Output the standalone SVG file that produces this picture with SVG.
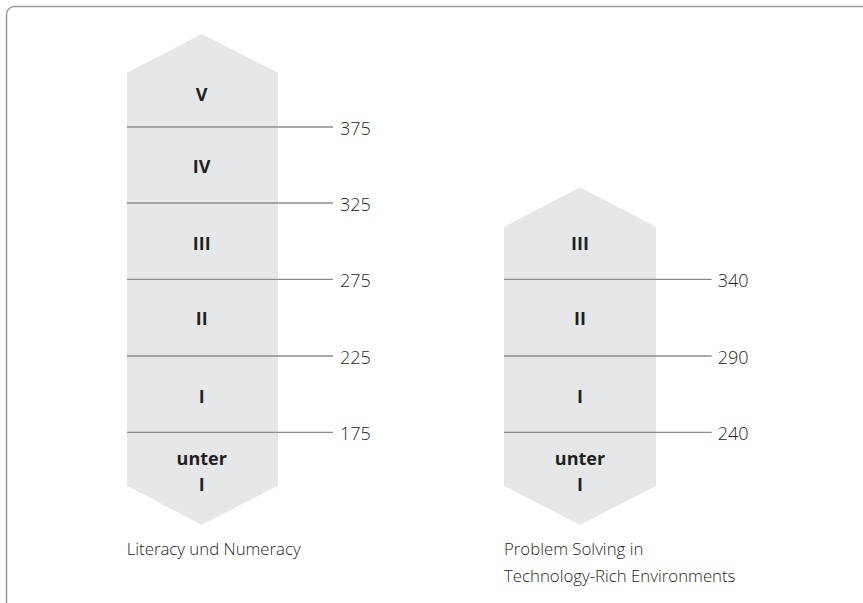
<svg xmlns="http://www.w3.org/2000/svg" width="863" height="603" viewBox="0 0 863 603">
<style>
.band{fill:#e6e7e8;stroke:none}
.tick{stroke:#8c8c8c;stroke-width:1.3;fill:none}
.lvl{font-family:"Open Sans","Liberation Sans",sans-serif;font-weight:700;font-size:18px;fill:#231f20;text-anchor:middle}
.num{font-family:"Open Sans","Liberation Sans",sans-serif;font-weight:300;font-size:18px;fill:#231f20}
.cap{font-family:"Open Sans","Liberation Sans",sans-serif;font-weight:300;font-size:16.8px;fill:#231f20}
</style>
<rect x="6.5" y="6.5" width="866" height="606" rx="8" fill="none" stroke="#9a9a9a" stroke-width="1.5"/>
<g id="literacy-scale">
<polygon class="band" points="127,72.7 201.7,34 278,72.7 278,485.7 201.7,525 127,485.7"/>
<text class="lvl" x="201.7" y="100.7">V</text>
<text class="lvl" x="201.7" y="173">IV</text>
<text class="lvl" x="201.7" y="250">III</text>
<text class="lvl" x="201.7" y="325.3">II</text>
<text class="lvl" x="201.7" y="403.3">I</text>
<text class="lvl" x="201.7" y="464.7">unter</text>
<text class="lvl" x="201.7" y="490.7">I</text>
<text class="cap" x="126.7" y="555">Literacy und Numeracy</text>
</g>
<g id="problem-solving-scale">
<polygon class="band" points="504,226.7 580,187.3 656,226.7 656,485.7 580,525 504,485.7"/>
<text class="lvl" x="580" y="250">III</text>
<text class="lvl" x="580" y="325.3">II</text>
<text class="lvl" x="580" y="403.3">I</text>
<text class="lvl" x="580" y="464.7">unter</text>
<text class="lvl" x="580" y="490.7">I</text>
<text class="cap" x="504" y="555">Problem Solving in</text>
<text class="cap" x="504" y="581.7">Technology-Rich Environments</text>
</g>
<g id="connectors">
<line class="tick" x1="127" y1="127" x2="333" y2="127"/>
<line class="tick" x1="127" y1="203" x2="333" y2="203"/>
<line class="tick" x1="127" y1="279.3" x2="333" y2="279.3"/>
<line class="tick" x1="127" y1="356" x2="333" y2="356"/>
<line class="tick" x1="127" y1="432.3" x2="333" y2="432.3"/>
<line class="tick" x1="504" y1="279.3" x2="711.7" y2="279.3"/>
<line class="tick" x1="504" y1="356" x2="711.7" y2="356"/>
<line class="tick" x1="504" y1="432.3" x2="711.7" y2="432.3"/>
</g>
<g id="threshold-labels">
<text class="num" x="340" y="135">375</text>
<text class="num" x="340" y="211">325</text>
<text class="num" x="340" y="287.3">275</text>
<text class="num" x="340" y="364">225</text>
<text class="num" x="340" y="440.3">175</text>
<text class="num" x="717.7" y="287.3">340</text>
<text class="num" x="717.7" y="364">290</text>
<text class="num" x="717.7" y="440.3">240</text>
</g>
</svg>
